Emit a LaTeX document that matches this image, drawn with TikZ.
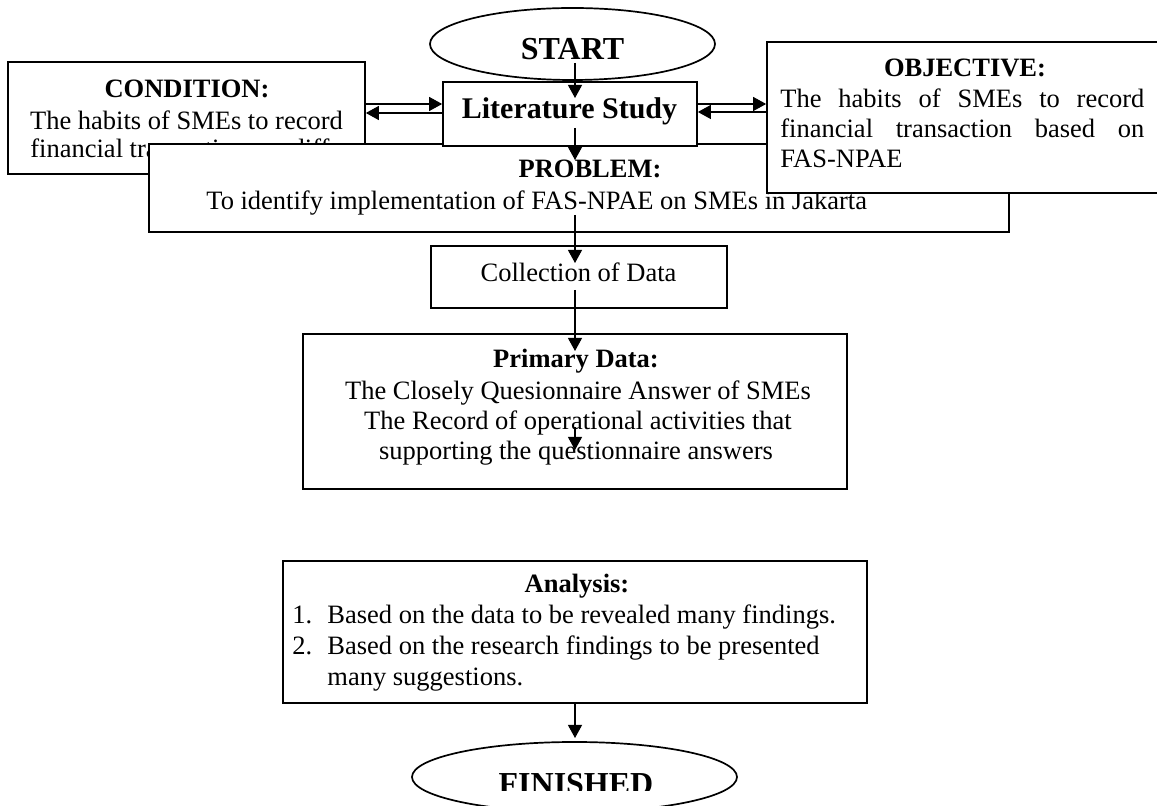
\documentclass[tikz,border=0pt]{standalone}
\usepackage{fontspec}
\setmainfont{Liberation Serif}
\usetikzlibrary{arrows.meta,fit,shapes.geometric}
\begin{document}
\begin{tikzpicture}[x=0.5pt,y=-0.5pt,
  box/.style={draw,line width=0.85pt,fill=white,inner sep=0pt},
  oval/.style={draw,line width=0.85pt,fill=white,ellipse,inner sep=0pt},
  txt/.style={inner sep=0pt,anchor=base,font=\fontsize{13.25}{15}\selectfont},
  btxt/.style={txt,font=\fontsize{13.25}{15}\selectfont\bfseries},
  ltxt/.style={txt,anchor=base west},
  bigtxt/.style={txt,font=\fontsize{16}{18}\selectfont\bfseries},
  arr/.style={-{Triangle[length=6.5pt,width=7pt]},line width=0.55pt},
]
\useasboundingbox[fill=white] (0,0) rectangle (1157,806);

% CONDITION
\node[box,fit={(8,62)(365,174)}] (cond) {};
\node[btxt] (condh) at (187,98) {CONDITION:};
\node[txt] (condl1) at (186.5,130) {The habits of SMEs to record};
\begin{scope}
  \clip (8,62) rectangle (365,174);
  \node[ltxt] (condl2) at (30,158) {financial transaction are different};
\end{scope}

% PROBLEM
\node[box,fit={(149,144)(1009,232)}] (prob) {};
\node[btxt] (probh) at (590,178) {PROBLEM:};
\node[ltxt] (probl) at (206,210) {To identify implementation of FAS-NPAE on SMEs in Jakarta};

% Literature Study
\node[box,fit={(443,82)(697,146)}] (lit) {};
\node[txt,font=\fontsize{15}{17}\selectfont\bfseries] (litt) at (569.5,119) {Literature Study};

% OBJECTIVE
\node[box,fit={(767,42)(1162,193)}] (obj) {};
\node[btxt] (objh) at (965,77) {OBJECTIVE:};
\node[ltxt] (objl1) at (780,108) {\makebox[182pt][s]{The habits of SMEs to record}};
\node[ltxt] (objl2) at (780,138) {\makebox[182pt][s]{financial transaction based on}};
\node[ltxt] (objl3) at (780,168) {FAS-NPAE};

% START
\node[oval,minimum width=142.5pt,minimum height=36pt] (start) at (572.5,44) {};
\node[bigtxt] (startt) at (572.5,60) {START};

% Collection of Data
\node[box,fit={(431,246)(727,308)}] (coll) {};
\node[txt] (collt) at (578.5,282) {Collection of Data};

% Primary Data
\node[box,fit={(303,334)(847,489)}] (prim) {};
\node[btxt] (primh) at (576,368) {Primary Data:};
\node[txt] (priml1) at (578,400) {The Closely Quesionnaire Answer of SMEs};
\node[txt] (priml2) at (578,430) {The Record of operational activities that};
\node[txt] (priml3) at (576,460) {supporting the questionnaire answers};

% Analysis
\node[box,fit={(283,561)(867,703)}] (ana) {};
\node[btxt] (anah) at (577,593) {Analysis:};
\node[ltxt] (n1) at (292,624) {1.};
\node[ltxt] (ana1) at (327,624) {Based on the data to be revealed many findings.};
\node[ltxt] (n2) at (292,655) {2.};
\node[ltxt] (ana2) at (327,655) {Based on the research findings to be presented};
\node[ltxt] (ana3) at (327,686) {many suggestions.};

% FINISHED
\node[oval,minimum width=162.5pt,minimum height=35pt] (fin) at (574.5,777) {};
\begin{scope}
  \clip (0,700) rectangle (1157,790);
  \node[bigtxt] (fint) at (576,794) {FINISHED};
\end{scope}

% connector end points
\coordinate (s1) at (575,63);   \coordinate (e1) at (575,98);
\coordinate (s2) at (575,128);  \coordinate (e2) at (575,160);
\coordinate (s3) at (575,215);  \coordinate (e3) at (575,263);
\coordinate (s4) at (575,290);  \coordinate (e4) at (575,351);
\coordinate (s5) at (575,427);  \coordinate (e5) at (575,450);
\coordinate (e6) at (575,738);

% vertical connectors
\draw[arr] (s1) -- (e1);
\draw[arr] (s2) -- (e2);
\draw[arr] (s3) -- (e3);
\draw[arr] (s4) -- (e4);
\draw[arr] (s5) -- (e5);
\draw[arr] (ana.south -| e6) -- (e6);

% horizontal connectors
\draw[arr] (cond.east |- 0,104) -- (lit.west |- 0,104);
\draw[arr] (lit.west |- 0,113) -- (cond.east |- 0,113);
\draw[arr] (lit.east |- 0,104) -- (obj.west |- 0,104);
\draw[arr] (obj.west |- 0,112) -- (lit.east |- 0,112);
\end{tikzpicture}
\end{document}
